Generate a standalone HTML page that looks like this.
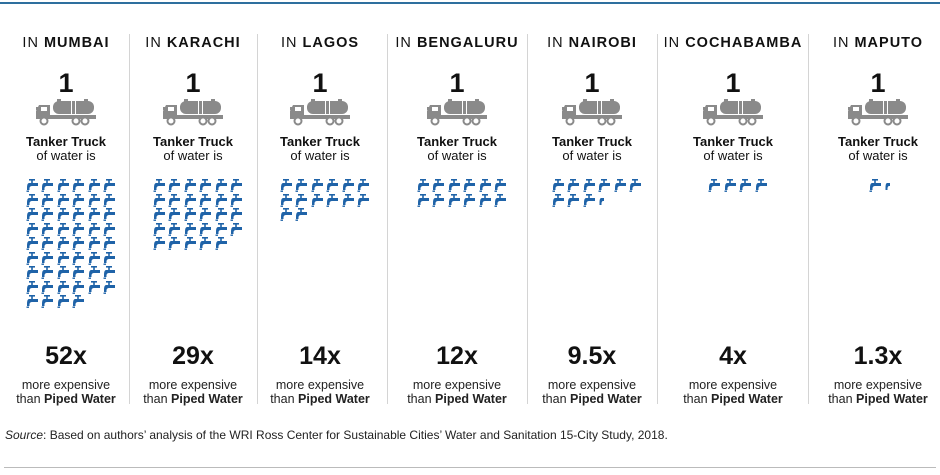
<!DOCTYPE html>
<html><head><meta charset="utf-8">
<style>
body{margin:0;background:#fff;font-family:"Liberation Sans",Arial,sans-serif;}
#c{position:relative;width:940px;height:475px;overflow:hidden;}
.t{position:absolute;text-align:center;white-space:nowrap;color:#111;}
</style></head><body>
<div id="c">
<div style="position:absolute;left:0;top:2px;width:940px;height:2px;background:#2e6f9e"></div>
<div style="position:absolute;left:4px;top:467px;width:932px;height:1px;background:#bbb"></div>
<div class="t" style="left:5px;top:428px;font-size:12px;text-align:left;color:#222"><i>Source</i>: Based on authors’ analysis of the WRI Ross Center for Sustainable Cities’ Water and Sanitation 15-City Study, 2018.</div>
</div>
<script>
const cities=["MUMBAI","KARACHI","LAGOS","BENGALURU","NAIROBI","COCHABAMBA","MAPUTO"];
const multiples=[52,29,14,12,9.5,4,1.3];
const labels=["52x","29x","14x","12x","9.5x","4x","1.3x"];
const centers=[66,193,320,457,592,733,878];
const seps=[129,257,387,527,657,808];
const c=document.getElementById('c');
function add(tag,name,css,html){const e=document.createElement(tag);e.className='t';e.style.cssText=css;if(html!==undefined)e.innerHTML=html;


c.appendChild(e);return e;}
seps.forEach((x,i)=>{const d=document.createElement('div');d.style.cssText=`position:absolute;left:${x}px;top:34px;width:1px;height:370px;background:#d4d4d4`;


c.appendChild(d);});
const truck=`<svg width="60" height="27" viewBox="0 0 60 27"><g fill="#8a8a8a"><rect x="0" y="8" width="3" height="3"/><path d="M3 6 h11 v14 h-14 v-8 z"/><rect x="5" y="8" width="6" height="4" fill="#fff"/><rect x="14" y="16" width="46" height="4"/><rect x="17" y="2" width="41" height="13" rx="6"/><rect x="21" y="0" width="4" height="3"/><rect x="48" y="0" width="4" height="3"/><rect x="35" y="2" width="1" height="13" fill="#fff"/><rect x="39" y="2" width="1" height="13" fill="#fff"/></g><g fill="#fff" stroke="#8a8a8a" stroke-width="2"><circle cx="8" cy="22" r="3.5"/><circle cx="40" cy="22" r="3.5"/><circle cx="49" cy="22" r="3.5"/></g></svg>`;
function faucet(frac){return `<svg width="12" height="13" viewBox="0 0 12 13" style="position:absolute"><g fill="#1f63a8">${frac<1?'<path d="M3 4 h3 v3 h-1 q-1 0 -1.5 2 v2 h-2 v-2 q0 -5 1.5 -5 z"/>':'<rect x="3" y="0" width="6" height="1.6"/><rect x="5.2" y="1" width="1.6" height="3"/><path d="M3 4 h9 v3 h-6 q-2 0 -2.5 2 v2 h-2.5 v-2 q0 -5 2 -5 z"/><rect x="0.5" y="11.5" width="2.5" height="1.4"/>'}</g></svg>`;}
cities.forEach((city,i)=>{
  const cx=centers[i];
  add('div','city-title',`left:${cx-80}px;width:160px;top:35px;font-size:14.5px;letter-spacing:1px`,`IN <b>${city}</b>`);
  add('div','truck-count',`left:${cx-30}px;width:60px;top:68px;font-size:27px;font-weight:bold`,'1');
  add('div','truck-icon',`left:${cx-30}px;top:99px;width:60px;height:27px`,truck);
  add('div','truck-label',`left:${cx-70}px;width:140px;top:135px;font-size:13px;line-height:14px`,'<b>Tanker Truck</b><br>of water is');
  const v=multiples[i];const full=Math.floor(v);const frac=v-full;const n=Math.ceil(v);
  const cols=Math.min(6,n);const w=cols*15.5;const x0=cx-w/2;
  for(let k=0;k<n;k++){const r=Math.floor(k/6),col=k%6;
    add('div','faucet-icon',`left:${(x0+col*15.5).toFixed(1)}px;top:${(179+r*14.5).toFixed(1)}px;width:12px;height:13px`,faucet(k<full?1:frac));}
  add('div','multiple-value',`left:${cx-60}px;width:120px;top:342px;font-size:25px;font-weight:bold`,labels[i]);
  add('div','multiple-caption',`left:${cx-75}px;width:150px;top:378px;font-size:12.5px;line-height:14px;color:#222`,'more expensive<br>than <b>Piped Water</b>');
});
</script>
</body></html>
